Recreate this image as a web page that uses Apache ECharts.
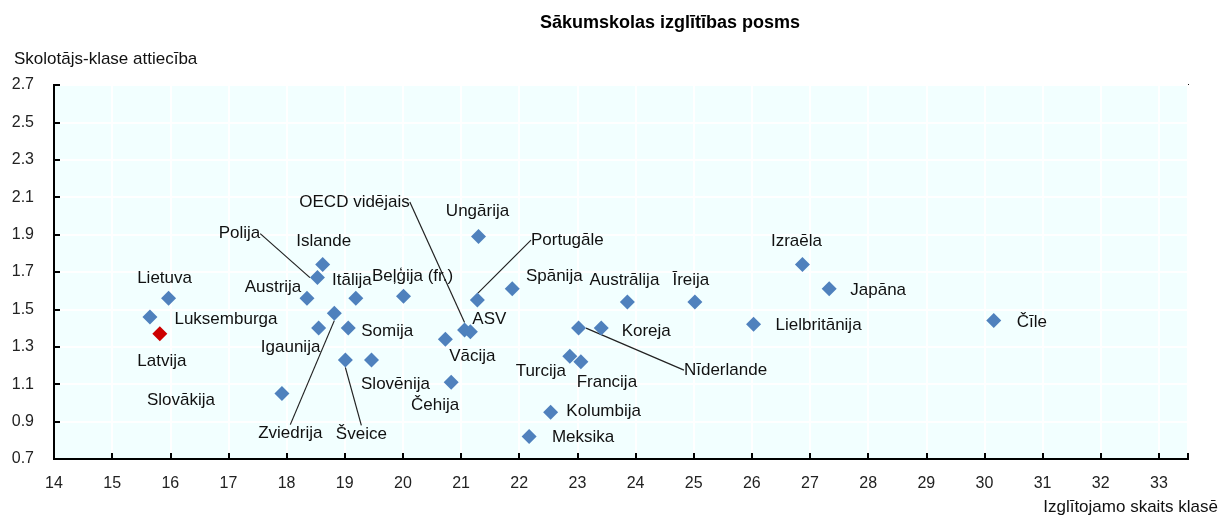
<!DOCTYPE html>
<html>
<head>
<meta charset="utf-8">
<script src="https://cdn.jsdelivr.net/npm/echarts@6/dist/echarts.min.js"></script>
<style>
  html, body { margin: 0; padding: 0; background: #ffffff; }
  #chart { width: 1220px; height: 519px; }
</style>
</head>
<body>
<div id="chart"></div>
<script>
// ---- Data ----
const chartTitle = 'Sākumskolas izglītības posms';
const yAxisTitle = 'Skolotājs-klase attiecība';
const xAxisTitle = 'Izglītojamo skaits klasē';

const countries = [
  'Lietuva', 'Luksemburga', 'Latvija', 'Slovākija', 'Islande', 'Polija',
  'Austrija', 'Itālija', 'Beļģija (fr.)', 'Zviedrija', 'Igaunija', 'Somija',
  'Šveice', 'Slovēnija', 'Vācija', 'Čehija', 'OECD vidējais', 'ASV',
  'Ungārija', 'Portugāle', 'Spānija', 'Austrālija', 'Īreija', 'Nīderlande',
  'Koreja', 'Turcija', 'Francija', 'Kolumbija', 'Meksika', 'Lielbritānija',
  'Izraēla', 'Japāna', 'Čīle'
];
const studentsPerClass = [
  15.97, 15.65, 15.82, 17.92, 18.62, 18.53,
  18.35, 19.19, 20.01, 18.82, 18.55, 19.06,
  19.01, 19.46, 20.73, 20.83, 21.06, 21.16,
  21.30, 21.28, 21.88, 23.86, 25.02, 23.02,
  23.41, 22.87, 23.06, 22.54, 22.17, 26.03,
  26.87, 27.33, 30.16
];
const teacherClassRatio = [
  1.56, 1.46, 1.37, 1.05, 1.74, 1.67,
  1.56, 1.56, 1.57, 1.48, 1.40, 1.40,
  1.23, 1.23, 1.34, 1.11, 1.39, 1.38,
  1.89, 1.55, 1.61, 1.54, 1.54, 1.40,
  1.40, 1.25, 1.22, 0.95, 0.82, 1.42,
  1.74, 1.61, 1.44
];
const highlighted = ['Latvija'];
const xTicks = { min: 14, max: 33.5, step: 1 };
const yTicks = { min: 0.7, max: 2.7, step: 0.2 };

// ---- Label placement (offset of label centre from marker, px) ----
const labelOffsets = {
  'Lietuva': [-4, -20], 'Luksemburga': [76, 2], 'Latvija': [2, 28],
  'Slovākija': [-101, 7], 'Islande': [1, -23], 'Polija': [-78, -44],
  'Austrija': [-34, -11], 'Itālija': [-4, -18], 'Beļģija (fr.)': [9, -20],
  'Zviedrija': [-44, 120], 'Igaunija': [-28, 19], 'Somija': [39, 3],
  'Šveice': [16, 74], 'Slovēnija': [24, 24], 'Vācija': [27, 17],
  'Čehija': [-16, 23], 'OECD vidējais': [-110, -128], 'ASV': [19, -13],
  'Ungārija': [-1, -25], 'Portugāle': [90, -60], 'Spānija': [42, -13],
  'Austrālija': [-3, -22], 'Īreija': [-4, -22], 'Nīderlande': [147, 42],
  'Koreja': [45, 3], 'Turcija': [-29, 15], 'Francija': [26, 21],
  'Kolumbija': [53, -1], 'Meksika': [54, 1], 'Lielbritānija': [65, 1],
  'Izraēla': [-6, -23], 'Japāna': [49, 1], 'Čīle': [38, 2]
};
const leaderLines = ['Polija', 'OECD vidējais', 'Portugāle', 'Zviedrija', 'Šveice', 'Nīderlande'];

const FONT = "'Liberation Sans', Arial, sans-serif";
const BLUE = '#4F81BD';
const RED = '#CC0000';

const seriesData = countries.map((name, i) => {
  const item = { name: name, value: [studentsPerClass[i], teacherClassRatio[i]] };
  if (highlighted.includes(name)) item.itemStyle = { color: RED };
  if (leaderLines.includes(name)) item.labelLine = { show: true };
  return item;
});

const chart = echarts.init(document.getElementById('chart'), null, { renderer: 'canvas' });
chart.setOption({
  animation: false,
  backgroundColor: '#ffffff',
  title: [
    { text: chartTitle, left: 670, top: 14, textAlign: 'center', padding: 0,
      textStyle: { fontFamily: FONT, fontSize: 18, fontWeight: 'bold', color: '#000' } },
    { text: yAxisTitle, left: 14, top: 51, padding: 0,
      textStyle: { fontFamily: FONT, fontSize: 17, fontWeight: 'normal', color: '#111' } },
    { text: xAxisTitle, right: 2, top: 499, padding: 0,
      textStyle: { fontFamily: FONT, fontSize: 17, fontWeight: 'normal', color: '#111' } }
  ],
  grid: {
    left: 54, right: 32, top: 85, bottom: 60,
    show: true, backgroundColor: '#F2FFFF', borderColor: '#111', borderWidth: 2
  },
  xAxis: {
    type: 'value', min: xTicks.min, max: xTicks.max, interval: xTicks.step,
    axisLine: { show: true, onZero: false, lineStyle: { color: '#000', width: 2 } },
    axisTick: { show: true, inside: true, length: 6, lineStyle: { color: '#000', width: 2 } },
    axisLabel: {
      margin: 17, fontFamily: FONT, fontSize: 16, color: '#222',
      formatter: v => (Math.abs(v - Math.round(v)) < 1e-6 ? String(Math.round(v)) : '')
    },
    splitLine: { show: true, lineStyle: { color: '#ffffff', width: 2 } }
  },
  yAxis: {
    type: 'value', min: yTicks.min, max: yTicks.max, interval: yTicks.step,
    axisLine: { show: true, onZero: false, lineStyle: { color: '#000', width: 2 } },
    axisTick: { show: true, inside: true, length: 6, lineStyle: { color: '#000', width: 2 } },
    axisLabel: {
      margin: 20, fontFamily: FONT, fontSize: 16, color: '#222',
      formatter: v => v.toFixed(1)
    },
    splitLine: { show: true, lineStyle: { color: '#ffffff', width: 2 } }
  },
  series: [{
    type: 'scatter',
    symbol: 'diamond',
    symbolSize: [15, 15],
    itemStyle: { color: BLUE, opacity: 1 },
    data: seriesData,
    label: {
      show: true,
      position: 'inside',
      align: 'center',
      verticalAlign: 'middle',
      formatter: p => p.name,
      fontFamily: FONT,
      fontSize: 17,
      color: '#111',
      textBorderWidth: 0
    },
    labelLine: { show: false, length2: 0, lineStyle: { color: '#222', width: 1.2 } },
    labelLayout: function (params) {
      const off = labelOffsets[countries[params.dataIndex]] || [0, 0];
      return { dx: off[0], dy: off[1], hideOverlap: false };
    },
    emphasis: { disabled: true }
  }]
});
</script>
</body>
</html>
